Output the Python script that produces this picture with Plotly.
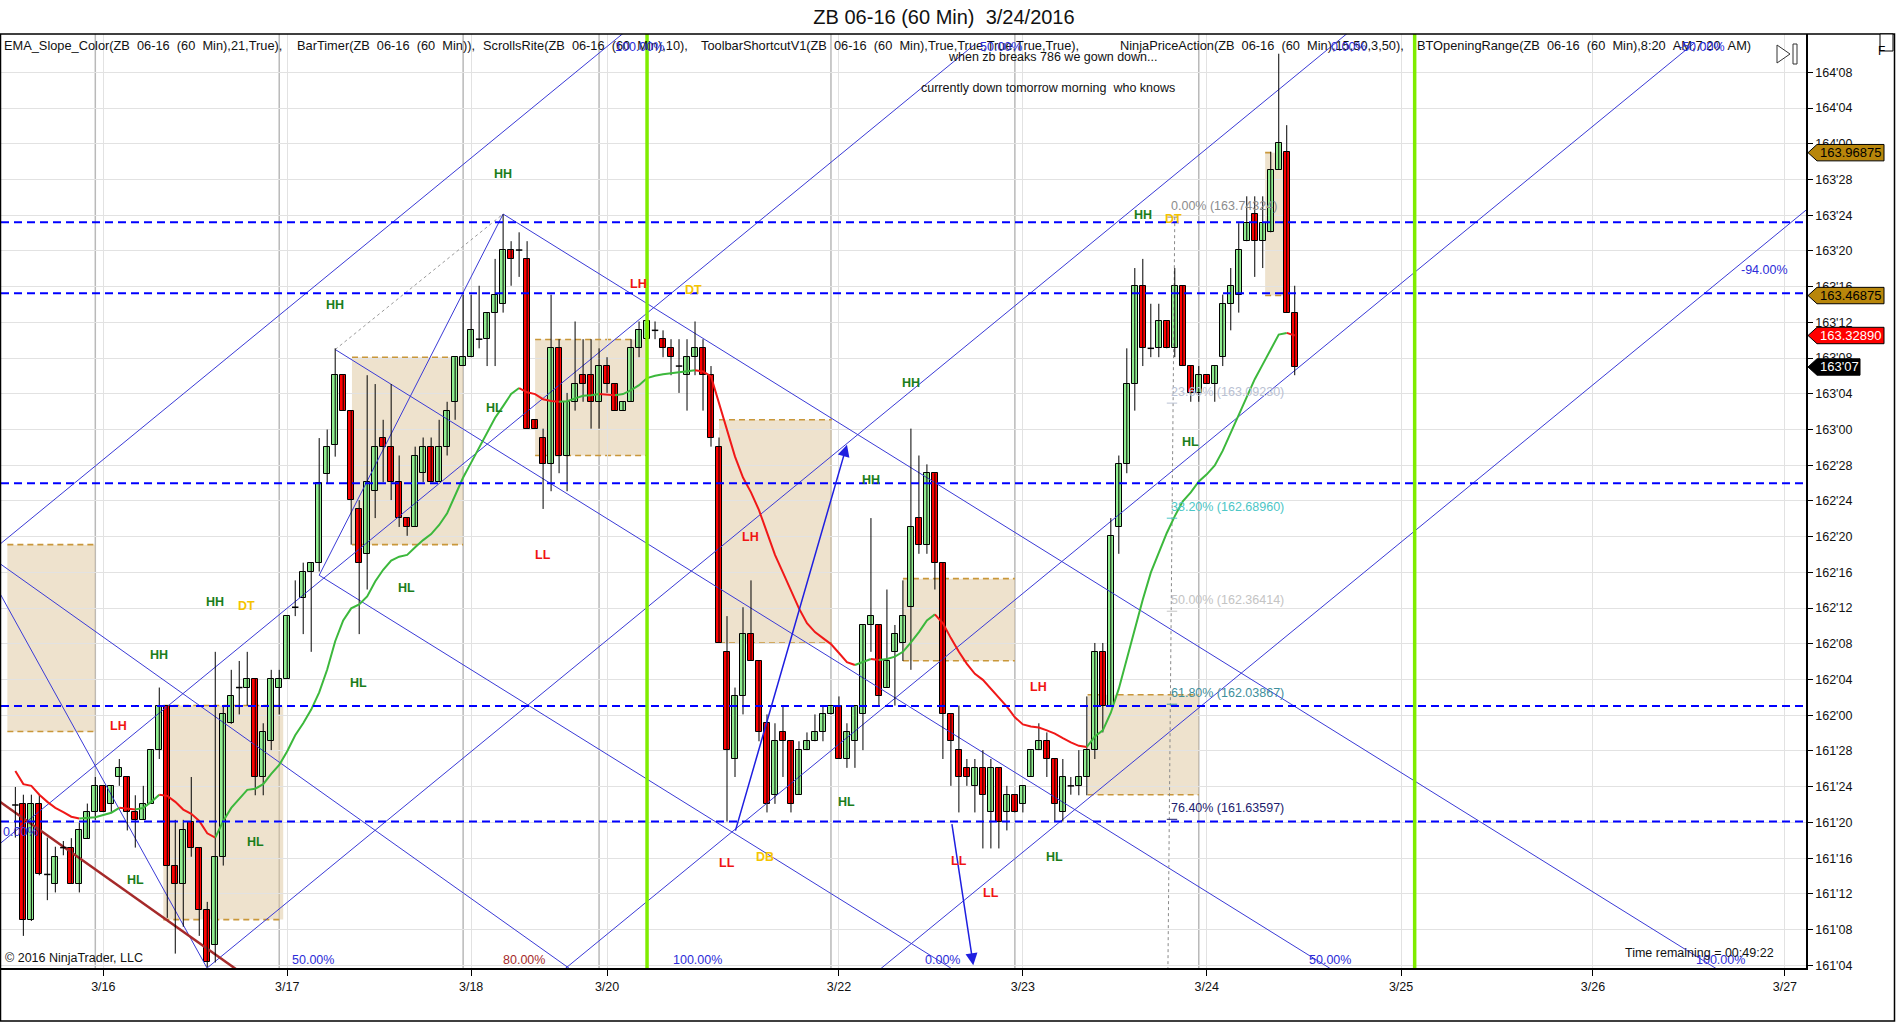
import plotly.graph_objects as go

# ---------------- data ----------------
bar_index = list(range(161))

open_ = [161.686, 161.691, 161.285, 161.691, 161.443, 161.410, 161.537, 161.537, 161.410, 161.568,
 161.661, 161.753, 161.691, 161.784, 161.784, 161.661, 161.634, 161.691, 161.878, 162.034,
 161.474, 161.410, 161.628, 161.537, 161.318, 161.197, 161.503, 161.972, 162.097, 162.097,
 162.128, 161.784, 161.909, 162.097, 162.128, 162.378, 162.409, 162.503, 162.534, 162.845,
 162.947, 163.190, 163.066, 162.722, 162.565, 162.784, 162.972, 162.940, 162.816, 162.690,
 162.659, 162.847, 162.940, 162.816, 162.940, 163.097, 163.222, 163.253, 163.316, 163.316,
 163.409, 163.440, 163.628, 163.628, 163.597, 163.034, 162.972, 162.878, 163.284, 162.909,
 163.097, 163.190, 163.190, 163.097, 163.222, 163.159, 163.066, 163.097, 163.284, 163.316,
 163.347, 163.316, 163.284, 163.222, 163.190, 163.253, 163.284, 163.190, 162.940, 162.222,
 161.847, 162.066, 162.284, 162.190, 161.972, 161.722, 161.940, 161.909, 161.722, 161.878,
 161.909, 161.940, 162.003, 162.034, 161.847, 161.909, 162.003, 162.316, 162.316, 162.097,
 162.222, 162.253, 162.378, 162.690, 162.597, 162.847, 162.534, 162.003, 161.878, 161.816,
 161.753, 161.816, 161.660, 161.816, 161.660, 161.722, 161.691, 161.784, 161.878, 161.909,
 161.847, 161.660, 161.753, 161.753, 161.784, 161.878, 162.222, 162.034, 162.659, 162.878,
 163.159, 163.503, 163.284, 163.284, 163.378, 163.284, 163.503, 163.222, 163.128, 163.190,
 163.159, 163.253, 163.440, 163.472, 163.659, 163.753, 163.659, 163.690, 163.909, 163.972,
 163.409]

high = [161.749, 161.722, 161.722, 161.722, 161.572, 161.540, 161.560, 161.570, 161.624, 161.691,
 161.784, 161.753, 161.753, 161.847, 161.784, 161.720, 161.753, 161.880, 162.097, 162.034,
 161.634, 161.634, 161.784, 161.537, 161.347, 162.222, 162.034, 162.159, 162.190, 162.222,
 162.128, 161.972, 162.159, 162.159, 162.347, 162.472, 162.534, 162.534, 162.970, 163.000,
 163.284, 163.190, 163.066, 162.753, 163.190, 163.159, 163.034, 163.159, 162.909, 162.690,
 162.940, 162.972, 162.972, 163.034, 163.097, 163.253, 163.472, 163.472, 163.503, 163.410,
 163.597, 163.753, 163.659, 163.690, 163.659, 163.034, 163.003, 163.472, 163.316, 163.128,
 163.378, 163.316, 163.316, 163.284, 163.253, 163.159, 163.097, 163.316, 163.378, 163.410,
 163.378, 163.347, 163.316, 163.316, 163.316, 163.378, 163.316, 163.222, 162.972, 162.347,
 162.097, 162.378, 162.472, 162.190, 162.003, 161.972, 162.034, 161.909, 161.909, 161.940,
 162.003, 162.034, 162.034, 162.066, 161.972, 162.034, 162.316, 162.690, 162.316, 162.440,
 162.316, 162.472, 163.003, 162.909, 162.878, 162.847, 162.534, 162.003, 162.034, 161.847,
 161.847, 161.878, 161.847, 161.816, 161.753, 161.722, 161.753, 161.878, 161.972, 161.940,
 161.847, 161.847, 161.784, 161.878, 162.066, 162.253, 162.253, 162.690, 162.909, 163.284,
 163.565, 163.597, 163.440, 163.440, 163.378, 163.565, 163.503, 163.222, 163.222, 163.190,
 163.222, 163.472, 163.565, 163.722, 163.816, 163.816, 163.816, 163.972, 164.315, 164.065,
 163.503]

low = [161.572, 161.228, 161.280, 161.440, 161.353, 161.380, 161.510, 161.410, 161.380, 161.568,
 161.634, 161.661, 161.660, 161.753, 161.597, 161.537, 161.634, 161.690, 161.847, 161.291,
 161.166, 161.260, 161.505, 161.228, 161.118, 161.135, 161.474, 161.970, 162.003, 162.034,
 161.720, 161.720, 161.878, 162.003, 162.128, 162.347, 162.284, 162.222, 162.503, 162.810,
 162.905, 163.066, 162.597, 162.284, 162.440, 162.690, 162.816, 162.753, 162.659, 162.628,
 162.659, 162.816, 162.816, 162.816, 162.909, 163.034, 163.222, 163.253, 163.284, 163.222,
 163.222, 163.409, 163.503, 163.534, 163.003, 163.003, 162.722, 162.784, 162.847, 162.784,
 163.066, 163.097, 163.003, 163.003, 163.128, 163.066, 163.066, 163.097, 163.253, 163.284,
 163.316, 163.253, 163.190, 163.128, 163.066, 163.190, 163.066, 162.940, 162.253, 161.628,
 161.784, 162.003, 162.190, 161.909, 161.660, 161.690, 161.784, 161.660, 161.722, 161.878,
 161.909, 161.909, 162.003, 161.847, 161.816, 161.816, 161.878, 162.222, 162.034, 162.097,
 162.034, 162.190, 162.159, 162.565, 162.565, 162.440, 161.847, 161.753, 161.660, 161.753,
 161.660, 161.534, 161.534, 161.534, 161.597, 161.660, 161.660, 161.784, 161.878, 161.784,
 161.628, 161.628, 161.722, 161.720, 161.720, 161.847, 161.940, 162.034, 162.565, 162.847,
 163.066, 163.222, 163.253, 163.253, 163.284, 163.253, 163.222, 163.097, 163.097, 163.159,
 163.097, 163.222, 163.347, 163.409, 163.659, 163.534, 163.565, 163.690, 163.909, 163.409,
 163.190]

close = [161.686, 161.285, 161.691, 161.443, 161.443, 161.503, 161.537, 161.410, 161.597, 161.661,
 161.753, 161.661, 161.753, 161.816, 161.661, 161.634, 161.691, 161.878, 162.034, 161.474,
 161.410, 161.597, 161.537, 161.318, 161.135, 161.503, 162.003, 162.066, 162.097, 162.128,
 161.784, 161.940, 162.128, 162.128, 162.347, 162.378, 162.503, 162.534, 162.813, 162.940,
 163.190, 163.066, 162.753, 162.534, 162.816, 162.940, 162.940, 162.816, 162.690, 162.659,
 162.909, 162.940, 162.816, 162.940, 163.066, 163.253, 163.253, 163.347, 163.316, 163.409,
 163.472, 163.628, 163.597, 163.628, 163.003, 163.003, 162.878, 163.284, 162.909, 163.097,
 163.159, 163.159, 163.097, 163.222, 163.159, 163.066, 163.097, 163.284, 163.347, 163.378,
 163.347, 163.284, 163.253, 163.222, 163.253, 163.284, 163.190, 162.972, 162.253, 161.878,
 162.066, 162.284, 162.190, 161.940, 161.690, 161.909, 161.909, 161.691, 161.878, 161.909,
 161.940, 162.003, 162.034, 161.847, 161.940, 162.034, 162.316, 162.347, 162.066, 162.190,
 162.284, 162.347, 162.659, 162.597, 162.847, 162.534, 162.003, 161.909, 161.784, 161.784,
 161.816, 161.722, 161.816, 161.628, 161.722, 161.660, 161.753, 161.878, 161.909, 161.847,
 161.691, 161.784, 161.753, 161.784, 161.878, 162.222, 162.034, 162.628, 162.878, 163.159,
 163.503, 163.284, 163.284, 163.378, 163.284, 163.503, 163.222, 163.128, 163.190, 163.159,
 163.222, 163.440, 163.503, 163.628, 163.722, 163.659, 163.722, 163.909, 164.003, 163.409,
 163.219]

ema21 = [161.805, 161.759, 161.753, 161.722, 161.697, 161.676, 161.661, 161.645, 161.639, 161.640,
 161.643, 161.651, 161.659, 161.676, 161.673, 161.670, 161.676, 161.697, 161.722, 161.718,
 161.697, 161.670, 161.655, 161.630, 161.587, 161.572, 161.630, 161.676, 161.707, 161.739,
 161.743, 161.759, 161.795, 161.826, 161.874, 161.930, 161.972, 162.020, 162.080, 162.160,
 162.259, 162.332, 162.374, 162.388, 162.416, 162.468, 162.509, 162.541, 162.555, 162.561,
 162.588, 162.613, 162.634, 162.666, 162.707, 162.770, 162.832, 162.884, 162.936, 162.993,
 163.041, 163.082, 163.124, 163.145, 163.130, 163.124, 163.106, 163.100, 163.097, 163.099,
 163.109, 163.118, 163.120, 163.124, 163.121, 163.120, 163.124, 163.138, 163.155, 163.180,
 163.188, 163.193, 163.197, 163.201, 163.205, 163.207, 163.203, 163.186, 163.093, 162.993,
 162.905, 162.832, 162.780, 162.718, 162.638, 162.561, 162.499, 162.436, 162.374, 162.322,
 162.291, 162.270, 162.249, 162.218, 162.186, 162.176, 162.186, 162.197, 162.193, 162.197,
 162.205, 162.222, 162.255, 162.291, 162.332, 162.353, 162.322, 162.270, 162.222, 162.180,
 162.145, 162.124, 162.093, 162.061, 162.030, 161.993, 161.968, 161.961, 161.957, 161.947,
 161.936, 161.920, 161.905, 161.893, 161.889, 161.926, 161.947, 162.009, 162.093, 162.197,
 162.301, 162.405, 162.499, 162.572, 162.638, 162.697, 162.749, 162.780, 162.818, 162.843,
 162.874, 162.926, 162.988, 163.051, 163.113, 163.176, 163.228, 163.280, 163.332, 163.338,
 163.329]

y_tick_labels = ["161'04", "161'08", "161'12", "161'16", "161'20", "161'24", "161'28",
                 "162'00", "162'04", "162'08", "162'12", "162'16", "162'20", "162'24", "162'28",
                 "163'00", "163'04", "163'08", "163'12", "163'16", "163'20", "163'24", "163'28",
                 "164'00", "164'04", "164'08"]
x_tick_bars = [11, 34, 57, 74, 103, 126, 149, 173.3, 197.3, 221.3]
x_tick_labels = ["3/16", "3/17", "3/18", "3/20", "3/22", "3/23", "3/24", "3/25", "3/26", "3/27"]
session_break_bars = [10, 33, 56, 73, 102, 125, 148]
green_marker_bars = [79, 175]

h_line_prices = [163.725, 163.477, 162.812, 162.032, 161.628]

# opening range boxes
box_start = [-1.0, 18.5, 42.1, 65.0, 88.0, 111.0, 134.1, 156.3]
box_end = [10.0, 33.5, 56.0, 79.0, 102.1, 125.0, 148.0, 159.2]
box_high = [162.597, 162.034, 163.253, 163.315, 163.034, 162.478, 162.072, 163.96875]
box_low = [161.943, 161.285, 162.597, 162.909, 162.253, 162.191, 161.722, 163.46875]

# trend / pitchfork lines: (bar0, price0, bar1, price1)
blue_lines = [
    (-2, 162.597, 77, 164.409),
    (-2, 161.549, 120, 164.348),
    (24, 161.116, 168, 164.419),
    (68, 161.096, 210, 164.353),
    (108, 161.108, 224, 163.769),
    (61, 163.754, 224, 160.917),
    (40, 163.280, 224, 160.077),
    (38, 162.490, 224, 159.253),
    (-2, 162.430, 26, 161.013),
    (-2, 162.532, 70, 161.100),
    (38, 162.490, 61, 163.754),
]
brown_line = (-2, 161.699, 30, 161.064)
dotted_line = (40, 163.280, 61, 163.754)
arrows = [(90, 161.591, 104, 162.947), (117.1, 161.624, 119.8, 161.125)]

# fibonacci retracement
fib_pct = [0.0, 23.6, 38.2, 50.0, 61.8, 76.4]
fib_price = [163.74324, 163.09230, 162.68960, 162.36414, 162.03867, 161.63597]
fib_color = ["#8c8c8c", "#b9c1d3", "#4cc6c6", "#c4c4c4", "#3f8f9c", "#1c1c6e"]
fib_anchor = (145.0, 163.743, 144.1, 160.985)

# price action labels (bar, price, text)
pa_labels = [(61.0, 163.894, "HH"), (40.0, 163.436, "HH"), (25.0, 162.395, "HH"), (28.9, 162.384, "DT"),
             (18.0, 162.212, "HH"), (12.9, 161.962, "LH"), (42.9, 162.114, "HL"), (48.9, 162.447, "HL"),
             (59.9, 163.075, "HL"), (30.0, 161.556, "HL"), (15.0, 161.422, "HL"), (77.9, 163.509, "LH"),
             (84.8, 163.488, "DT"), (66.0, 162.562, "LL"), (112.0, 163.161, "HH"), (107.0, 162.822, "HH"),
             (92.0, 162.624, "LH"), (104.0, 161.697, "HL"), (89.0, 161.483, "LL"), (93.8, 161.504, "DB"),
             (118.0, 161.489, "LL"), (141.0, 163.749, "HH"), (144.9, 163.738, "DT"), (147.0, 162.957, "HL"),
             (127.9, 162.099, "LH"), (130.0, 161.505, "HL"), (122.0, 161.378, "LL")]

# pitchfork level labels (bar, price, text)
pf_labels = [(78.1, 164.339, "100.00%"), (123.3, 164.339, "50.00%"), (166.7, 164.339, "0.00%"),
             (210.9, 164.339, "-50.00%"), (218.7, 163.558, "-94.00%"), (0.64, 161.592, "0.00%"),
             (37.2, 161.145, "50.00%"), (85.3, 161.145, "100.00%"), (116.0, 161.145, "0.00%"),
             (164.4, 161.145, "50.00%"), (213.3, 161.145, "100.00%")]
pf_label_red = (63.6, 161.145, "80.00%")

flag_prices = [163.96875, 163.46875, 163.32890, 163.21875]
flag_texts = ["163.96875", "163.46875", "163.32890", "163'07"]
flag_bg = ["#b8860b", "#b8860b", "#ff0000", "#000000"]
flag_fg = ["#000000", "#000000", "#ffffff", "#ffffff"]

notes = [(116.4, 164.305, "when zb breaks 786 we gown down..."),
         (113.0, 164.196, "currently down tomorrow morning  who knows")]

header_parts = ["EMA_Slope_Color(ZB  06-16  (60  Min),21,True),",
                "BarTimer(ZB  06-16  (60  Min)),",
                "ScrollsRite(ZB  06-16  (60  Min),10),",
                "ToolbarShortcutV1(ZB  06-16  (60  Min),True,True,True,True,True),",
                "NinjaPriceAction(ZB  06-16  (60  Min),15,50,3,50),",
                "BTOpeningRange(ZB  06-16  (60  Min),8:20  AM,7:20  AM)"]
header_px = [2, 295, 481, 699, 1118, 1415]

# ---------------- layout constants ----------------
FONT = "Liberation Sans, Arial, sans-serif"
PL, PR, PT, PB = 1, 1806, 34, 968
W, H = 1896, 1024
X_RANGE = [-1.795, 223.94]
Y_RANGE = [161.1156, 164.384]
GREEN = "#90ee90"
RED = "#ff0000"
BLUE_LINE = "#3a3ad6"


def pxx(px):
    return (px - PL) / (PR - PL)


def pxy(py):
    return (PB - py) / (PB - PT)


def nb(s):
    return s.replace("  ", " \u00a0")


def tick_value(lbl):
    a, b = lbl.split("'")
    return int(a) + int(b) / 32.0


fig = go.Figure()
shapes = []
ann = []

# session break lines and boxes (below)
for k in session_break_bars:
    shapes.append(dict(type="line", xref="x", yref="paper", x0=k, x1=k, y0=0, y1=1,
                       line=dict(color="#b9b9b9", width=1.5), layer="below"))
for k0, k1, hi, lo in zip(box_start, box_end, box_high, box_low):
    shapes.append(dict(type="rect", xref="x", yref="y", x0=k0, x1=k1, y0=lo, y1=hi,
                       fillcolor="rgba(221,198,155,0.5)", line=dict(width=0), layer="below"))
    for yy in (hi, lo):
        shapes.append(dict(type="line", xref="x", yref="y", x0=k0, x1=k1, y0=yy, y1=yy,
                           line=dict(color="#c9973a", width=1.6, dash="6px,4px"), layer="below"))

# pitchfork lines
for (k0, p0, k1, p1) in blue_lines:
    fig.add_trace(go.Scatter(x=[k0, k1], y=[p0, p1], mode="lines",
                             line=dict(color=BLUE_LINE, width=1), hoverinfo="skip"))
fig.add_trace(go.Scatter(x=[brown_line[0], brown_line[2]], y=[brown_line[1], brown_line[3]], mode="lines",
                         line=dict(color="#a52a2a", width=2.5), hoverinfo="skip"))
fig.add_trace(go.Scatter(x=[dotted_line[0], dotted_line[2]], y=[dotted_line[1], dotted_line[3]], mode="lines",
                         line=dict(color="#9a9a9a", width=1, dash="dot"), hoverinfo="skip"))
fig.add_trace(go.Scatter(x=[fib_anchor[0], fib_anchor[2]], y=[fib_anchor[1], fib_anchor[3]], mode="lines",
                         line=dict(color="#8a8a8a", width=1, dash="dot"), hoverinfo="skip"))

# candles
wx, wy, dx, dy = [], [], [], []
bx, bbase, bh, bc = [], [], [], []
for k, o, h, l, c in zip(bar_index, open_, high, low, close):
    wx += [k, k, None]
    wy += [l, h, None]
    if abs(c - o) < 0.004:
        dx += [k - 0.4, k + 0.4, None]
        dy += [o, o, None]
    else:
        bx.append(k)
        bbase.append(min(o, c))
        bh.append(abs(c - o))
        bc.append(GREEN if c > o else RED)
fig.add_trace(go.Scatter(x=wx, y=wy, mode="lines", line=dict(color="black", width=1), hoverinfo="skip"))
fig.add_trace(go.Bar(x=bx, y=bh, base=bbase, width=0.78, marker=dict(color=bc, line=dict(color="black", width=1)),
                     hoverinfo="skip"))
fig.add_trace(go.Scatter(x=dx, y=dy, mode="lines", line=dict(color="black", width=1.5), hoverinfo="skip"))

# EMA colored by slope
runs = []
cur, cx, cy = None, [], []
for i in range(len(ema21) - 1):
    col = "#3cb83c" if ema21[i + 1] >= ema21[i] else "#f01818"
    if col != cur:
        if cur is not None:
            runs.append((cur, cx, cy))
        cur, cx, cy = col, [bar_index[i]], [ema21[i]]
    cx.append(bar_index[i + 1])
    cy.append(ema21[i + 1])
runs.append((cur, cx, cy))
for col, xs, ys in runs:
    fig.add_trace(go.Scatter(x=xs, y=ys, mode="lines", line=dict(color=col, width=2), hoverinfo="skip"))

# fib short ticks
for p, col in zip(fib_price, fib_color):
    fig.add_trace(go.Scatter(x=[144.0, 145.3], y=[p, p], mode="lines", line=dict(color=col, width=1),
                             hoverinfo="skip"))

# horizontal dashed lines and green verticals (above)
for p in h_line_prices:
    shapes.append(dict(type="line", xref="paper", yref="y", x0=0, x1=1, y0=p, y1=p,
                       line=dict(color="#0000ff", width=2, dash="8px,5px"), layer="above"))
for k in green_marker_bars:
    shapes.append(dict(type="line", xref="x", yref="paper", x0=k, x1=k, y0=0, y1=1,
                       line=dict(color="#7fec00", width=3.5), layer="above"))

# arrows
for (k0, p0, k1, p1) in arrows:
    ann.append(dict(x=k1, y=p1, ax=k0, ay=p0, xref="x", yref="y", axref="x", ayref="y", text="",
                    showarrow=True, arrowhead=2, arrowsize=1.6, arrowwidth=1.5, arrowcolor="#1f1fe0"))

# fib labels
for pct, p, col in zip(fib_pct, fib_price, fib_color):
    ann.append(dict(x=144.3, y=p, xref="x", yref="y", text=f"{pct:.2f}% ({p:.5f})", showarrow=False,
                    xanchor="left", yanchor="middle", yshift=11, font=dict(family=FONT, size=12.5, color=col)))

# price action labels
pa_color = {"HH": "#1b7d1b", "HL": "#1b7d1b", "LH": "#f01414", "LL": "#f01414", "DT": "#f5c400", "DB": "#f5c400"}
for k, p, t in pa_labels:
    ann.append(dict(x=k, y=p, xref="x", yref="y", text=f"<b>{t}</b>", showarrow=False,
                    font=dict(family=FONT, size=12.5, color=pa_color[t])))

# header
for t, px in zip(header_parts, header_px):
    ann.append(dict(x=pxx(px), y=pxy(46), xref="paper", yref="paper", text=nb(t), showarrow=False,
                    xanchor="left", yanchor="middle", font=dict(family=FONT, size=12.8, color="#111111")))

# pitchfork labels
for k, p, t in pf_labels:
    ann.append(dict(x=k, y=p, xref="x", yref="y", text=t, showarrow=False,
                    font=dict(family=FONT, size=12.5, color="#2c2cd8")))
ann.append(dict(x=pf_label_red[0], y=pf_label_red[1], xref="x", yref="y", text=pf_label_red[2], showarrow=False,
                font=dict(family=FONT, size=12.5, color="#a52a2a")))

# notes
for k, p, t in notes:
    ann.append(dict(x=k, y=p, xref="x", yref="y", text=nb(t), showarrow=False, xanchor="left",
                    font=dict(family=FONT, size=12.5, color="#111111")))

# copyright / timer
ann.append(dict(x=pxx(3), y=pxy(958), xref="paper", yref="paper", text="© 2016 NinjaTrader, LLC",
                showarrow=False, xanchor="left", yanchor="middle", font=dict(family=FONT, size=12.5, color="#111111")))
ann.append(dict(x=pxx(1776), y=pxy(953), xref="paper", yref="paper", text="Time remaining = 00:49:22",
                showarrow=False, xanchor="right", yanchor="middle", font=dict(family=FONT, size=12.5, color="#111111")))

# right-axis flags
hh = 8.2 / ((PB - PT) / (Y_RANGE[1] - Y_RANGE[0]))
for p, t, bg, fg in zip(flag_prices, flag_texts, flag_bg, flag_fg):
    right = 1860 if t.count("'") else 1884
    x_tip, x_l, x_r = pxx(1808), pxx(1817), pxx(right)
    path = f"M {x_tip},{p} L {x_l},{p + hh} L {x_r},{p + hh} L {x_r},{p - hh} L {x_l},{p - hh} Z"
    shapes.append(dict(type="path", xref="paper", yref="y", path=path, fillcolor=bg,
                       line=dict(color="#000000", width=1), layer="above"))
    ann.append(dict(x=pxx(1818), y=p, xref="paper", yref="y", text=t, showarrow=False, xanchor="left",
                    yanchor="middle", font=dict(family=FONT, size=13, color=fg)))

# outer frame, icons
shapes.append(dict(type="rect", xref="paper", yref="paper", x0=pxx(0.5), x1=pxx(1894.5), y0=pxy(1021), y1=pxy(34),
                   line=dict(color="black", width=1.5), fillcolor="rgba(0,0,0,0)", layer="above"))
shapes.append(dict(type="rect", xref="paper", yref="paper", x0=pxx(1880), x1=pxx(1893), y0=pxy(51), y1=pxy(34),
                   line=dict(color="black", width=1), fillcolor="white", layer="above"))
ann.append(dict(x=pxx(1886.5), y=pxy(42.5), xref="paper", yref="paper", text="F", showarrow=False,
                font=dict(family=FONT, size=12, color="black")))
shapes.append(dict(type="path", xref="paper", yref="paper",
                   path=f"M {pxx(1777)},{pxy(45)} L {pxx(1790)},{pxy(54)} L {pxx(1777)},{pxy(63)} Z",
                   line=dict(color="#333333", width=1), fillcolor="white", layer="above"))
shapes.append(dict(type="rect", xref="paper", yref="paper", x0=pxx(1793), x1=pxx(1797), y0=pxy(64), y1=pxy(44),
                   line=dict(color="#333333", width=1), fillcolor="white", layer="above"))

fig.update_layout(
    width=W, height=H,
    margin=dict(l=PL, r=W - PR, t=PT, b=H - PB),
    paper_bgcolor="white", plot_bgcolor="white",
    showlegend=False, hovermode=False, bargap=0,
    title=dict(text="ZB 06-16 (60 Min)  3/24/2016".replace("  ", " \u00a0"), x=944 / W, xanchor="center",
               y=1 - 17 / H, yanchor="middle", yref="container", font=dict(family=FONT, size=20, color="#111111")),
    xaxis=dict(range=X_RANGE, tickvals=x_tick_bars, ticktext=x_tick_labels, showgrid=True, gridcolor="#e2e2e2",
               gridwidth=1, zeroline=False, ticks="outside", ticklen=6, tickcolor="black", showline=True,
               linecolor="black", linewidth=1.5, tickfont=dict(family=FONT, size=12.5, color="#111111")),
    yaxis=dict(range=Y_RANGE, side="right", tickvals=[tick_value(t) for t in y_tick_labels], ticktext=y_tick_labels,
               showgrid=True, gridcolor="#e2e2e2", gridwidth=1, zeroline=False, ticks="outside", ticklen=5,
               tickcolor="black", showline=True, linecolor="black", linewidth=1.5,
               tickfont=dict(family=FONT, size=12.5, color="#111111")),
    shapes=shapes, annotations=ann,
)

fig.write_html("out.html",
               config={"displayModeBar": False},
               post_script="document.body.style.margin='0px';document.body.style.padding='0px';"
                           "document.body.style.overflow='hidden';")
